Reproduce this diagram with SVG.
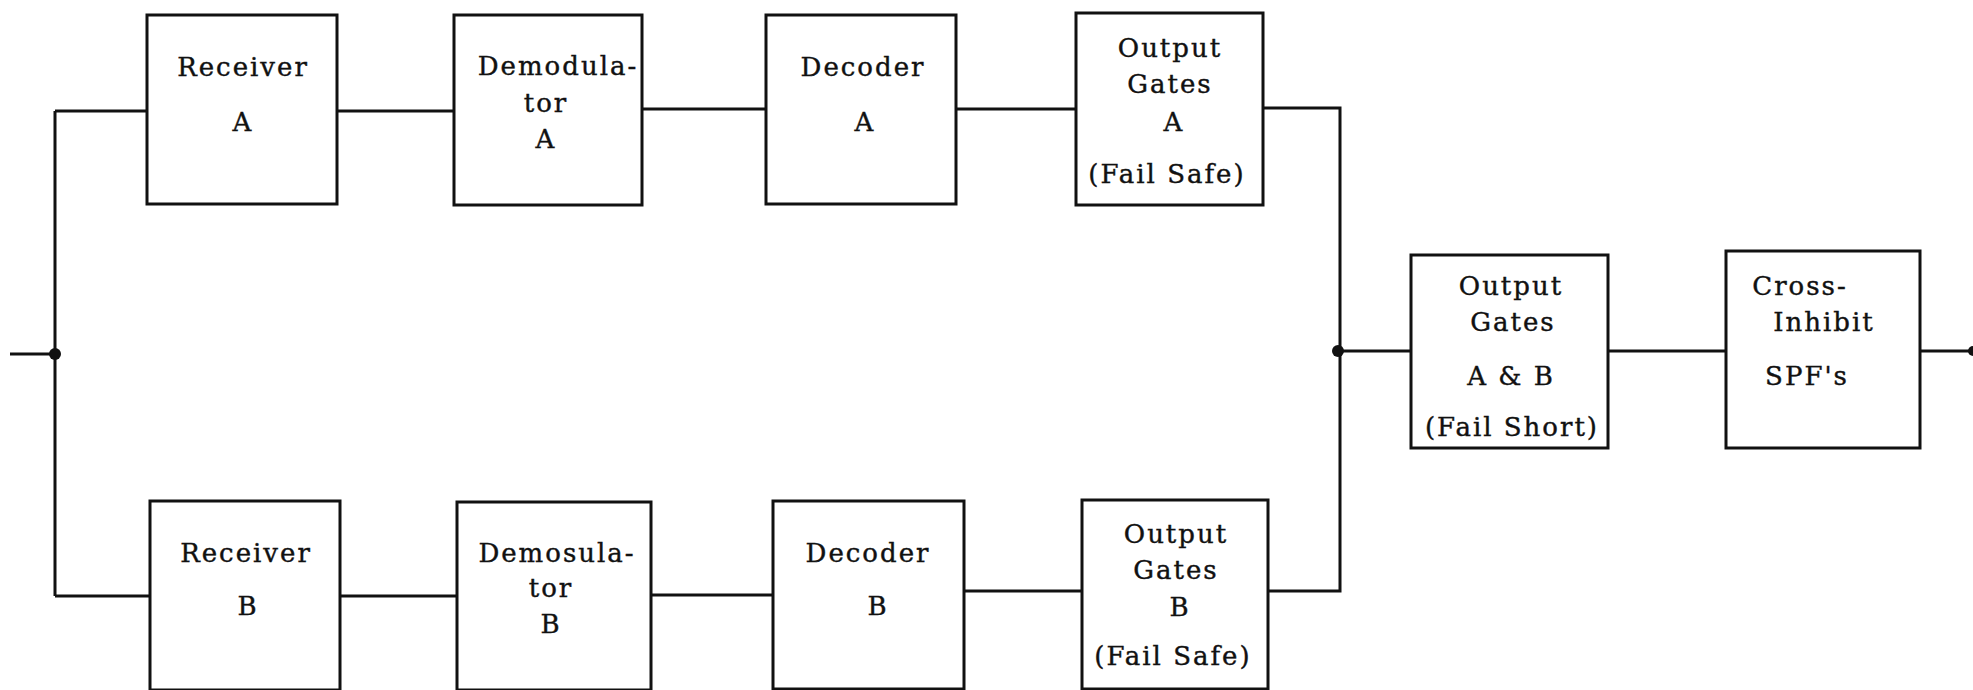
<svg xmlns="http://www.w3.org/2000/svg" width="1973" height="690" viewBox="0 0 1973 690">
<style>
.box{fill:#fff;stroke:#111;stroke-width:3}
.ln{fill:none;stroke:#111;stroke-width:3}
text{font-family:"DejaVu Serif","Liberation Serif",serif;font-size:26px;fill:#111;stroke:#111;stroke-width:0.4;text-anchor:middle;letter-spacing:2px}
</style>
<rect width="1973" height="690" fill="#fff"/>
<g id="connectors">
<path class="ln" d="M10 354 H55 M55 111 V596 M55 111 H147 M55 596 H150"/>
<path class="ln" d="M337 111 H454 M642 109 H766 M956 109 H1076 M1263 108 H1340 V591 H1268"/>
<path class="ln" d="M340 596 H457 M651 595 H773 M964 591 H1082"/>
<path class="ln" d="M1340 351 H1411 M1608 351 H1726 M1920 351 H1973"/>
<circle cx="55" cy="354" r="6" fill="#111"/>
<circle cx="1338" cy="351" r="6" fill="#111"/>
<circle cx="1973" cy="351" r="5" fill="#111"/>
</g>
<g id="receiverA"><rect class="box" x="147" y="15" width="190" height="189"/>
<text x="243" y="76">Receiver</text><text x="243" y="131">A</text></g>
<g id="demodA"><rect class="box" x="454" y="15" width="188" height="190"/>
<text x="558" y="75">Demodula-</text><text x="546" y="112">tor</text><text x="546" y="148">A</text></g>
<g id="decoderA"><rect class="box" x="766" y="15" width="190" height="189"/>
<text x="863" y="76">Decoder</text><text x="865" y="131">A</text></g>
<g id="outputA"><rect class="box" x="1076" y="13" width="187" height="192"/>
<text x="1170" y="57">Output</text><text x="1170" y="93">Gates</text><text x="1174" y="131">A</text><text x="1167" y="183">(Fail Safe)</text></g>
<g id="outputAB"><rect class="box" x="1411" y="255" width="197" height="193"/>
<text x="1511" y="295">Output</text><text x="1513" y="331">Gates</text><text x="1511" y="385">A &amp; B</text><text x="1512" y="436">(Fail Short)</text></g>
<g id="crossInhibit"><rect class="box" x="1726" y="251" width="194" height="197"/>
<text x="1800" y="295">Cross-</text><text x="1824" y="331">Inhibit</text><text x="1807" y="385">SPF's</text></g>
<g id="receiverB"><rect class="box" x="150" y="501" width="190" height="189"/>
<text x="246" y="562">Receiver</text><text x="248" y="615">B</text></g>
<g id="demodB"><rect class="box" x="457" y="502" width="194" height="188"/>
<text x="557" y="562">Demosula-</text><text x="551" y="597">tor</text><text x="551" y="633">B</text></g>
<g id="decoderB"><rect class="box" x="773" y="501" width="191" height="188"/>
<text x="868" y="562">Decoder</text><text x="878" y="615">B</text></g>
<g id="outputB"><rect class="box" x="1082" y="500" width="186" height="189"/>
<text x="1176" y="543">Output</text><text x="1176" y="579">Gates</text><text x="1180" y="616">B</text><text x="1173" y="665">(Fail Safe)</text></g>
</svg>
